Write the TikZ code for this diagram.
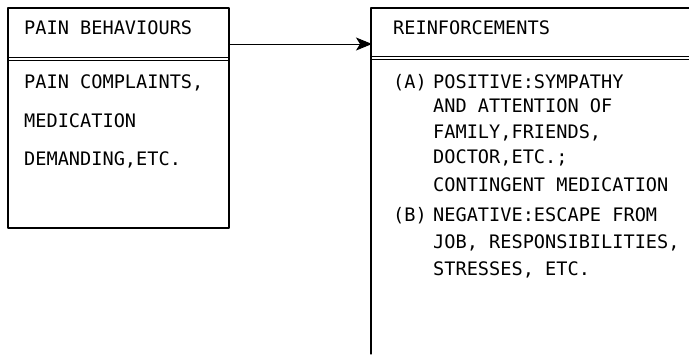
\documentclass[tikz,border=0pt]{standalone}
\usepackage{fontspec}
\setmonofont{DejaVu Sans Mono}
\usetikzlibrary{arrows.meta}
\begin{document}
\begin{tikzpicture}[x=1pt,y=-1pt,>={Stealth[length=16pt,width=13pt,inset=4pt]},
  font=\ttfamily\fontsize{18.6}{18.6}\selectfont, line join=round, line cap=round,
  every node/.style={anchor=base west, inner sep=0pt},
  boxline/.style={line width=1.2pt}, sepline/.style={line width=0.8pt}]
	\useasboundingbox (0,0) rectangle (689,354);
	% left box
	\draw[boxline] (8,8) rectangle (229,228);
	\draw[sepline] (8,57)--(229,57) (8,60)--(229,60);
	% right box (open)
	\draw[boxline] (689,8)--(371,8)--(371,354);
	\draw[sepline] (371,56)--(689,56) (371,59)--(689,59);
	% arrow
	\coordinate (behout) at (229,44);
	\coordinate (reinin) at (372,44);
	\draw[->,line width=1pt] (behout)--(reinin);
	% left texts
	\node (behtitle) at (24,34) {PAIN BEHAVIOURS};
	\node (beh1) at (24,88) {PAIN COMPLAINTS,};
	\node (beh2) at (24,127) {MEDICATION};
	\node (beh3) at (24,165) {DEMANDING,ETC.};
	% right texts
	\node (reintitle) at (393,34) {REINFORCEMENTS};
	\node (posA) at (393,88) {(A)};
	\node (pos1) at (433,88) {POSITIVE:SYMPATHY};
	\node (pos2) at (433,112) {AND ATTENTION OF};
	\node (pos3) at (433,138) {FAMILY,FRIENDS,};
	\node (pos4) at (433,163) {DOCTOR,ETC.;};
	\node (pos5) at (433,191) {CONTINGENT MEDICATION};
	\node (negB) at (393,221) {(B)};
	\node (neg1) at (433,221) {NEGATIVE:ESCAPE FROM};
	\node (neg2) at (433,248) {JOB, RESPONSIBILITIES,};
	\node (neg3) at (433,275) {STRESSES, ETC.};
\end{tikzpicture}
\end{document}
